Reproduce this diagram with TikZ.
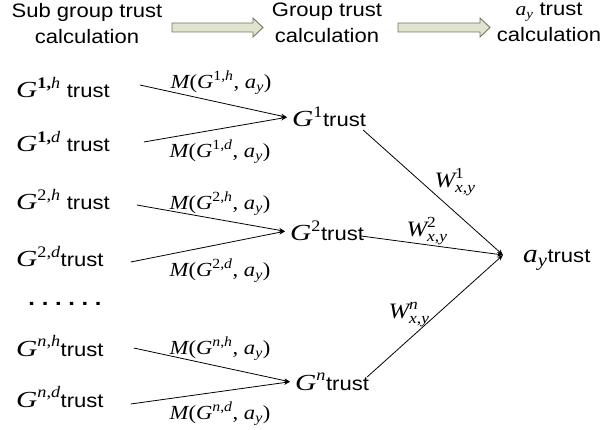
\documentclass[tikz,border=0pt]{standalone}
\usepackage{amsmath}
\usepackage{fontspec}
\setmainfont{Liberation Sans}[FakeStretch=1.13]
\newfontfamily\tms{Liberation Serif}[FakeStretch=1.13]
\newfontfamily\tmsw{Liberation Serif}[FakeStretch=1.28]
\usetikzlibrary{arrows.meta}
\newcommand{\tvi}[1]{\text{\tms\itshape #1}}
\newcommand{\tvr}[1]{\text{\tms\upshape #1}}
\newcommand{\tvG}{\text{\tmsw\itshape G}}
\newcommand{\szG}{\fontsize{23}{27}\selectfont}
\newcommand{\szW}{\fontsize{22}{26}\selectfont}
\newcommand{\szM}{\fontsize{20}{24}\selectfont}
\newcommand{\szA}{\fontsize{26}{30}\selectfont}
\newcommand{\szH}{\fontsize{19}{23}\selectfont}
\newcommand{\dotgap}{\hspace{6.7pt}}
\definecolor{arrfill}{RGB}{224,228,206}
\definecolor{arrdraw}{RGB}{115,120,100}
\begin{document}
\begin{tikzpicture}[x=1pt,y=-1pt,
  txt/.style={inner sep=0pt, font=\fontsize{19.5}{26}\selectfont},
  hdr/.style={txt, align=center, anchor=north},
  grp/.style={txt, inner xsep=5pt, inner ysep=0pt, anchor=base west},
  lab/.style={inner sep=0pt},
  conn/.style={line width=0.8pt, -{Stealth[length=6pt,width=4.5pt]}},
  blockarrow/.style={fill=arrfill, draw=arrdraw, line width=0.9pt, line join=miter}]
\path[use as bounding box, fill=white] (0,0) rectangle (608,430);

% header
\node[hdr] (h1) at (87,3) {Sub group trust\\calculation};
\node[hdr] (h2) at (327,3) {Group trust\\calculation};
\node[hdr] (h3) at (549,3) {{\szH$\tvi{a}_{\tvi{y}}$} trust\\calculation};
\draw[blockarrow] (172,23) -- (253,23) -- (253,18) -- (263,27.5) -- (253,37) -- (253,32) -- (172,32) -- cycle;
\draw[blockarrow] (398,23) -- (480,23) -- (480,18) -- (490,27.5) -- (480,37) -- (480,32) -- (398,32) -- cycle;

% sub group nodes
\node[txt, anchor=base west] (s1h) at (16,98) {{\szG$\tvG^{\tvr{\bfseries 1,}\tvi{h}}$} trust};
\node[txt, anchor=base west] (s1d) at (16,152) {{\szG$\tvG^{\tvr{\bfseries 1,}\tvi{d}}$} trust};
\node[txt, anchor=base west] (s2h) at (16,210) {{\szG$\tvG^{\tvr{2,}\tvi{h}}$} trust};
\node[txt, anchor=base west] (s2d) at (16,267) {{\szG$\tvG^{\tvr{2,}\tvi{d}}$}trust};
\node[txt, anchor=base, font=\fontsize{21}{24}\selectfont\bfseries] (dots) at (65,306) {.\dotgap.\dotgap.\dotgap.\dotgap.\dotgap.};
\node[txt, anchor=base west] (snh) at (16,356) {{\szG$\tvG^{\tvi{n}\tvr{,}\tvi{h}}$}trust};
\node[txt, anchor=base west] (snd) at (16,407) {{\szG$\tvG^{\tvi{n}\tvr{,}\tvi{d}}$}trust};

% group nodes
\node[grp] (g1) at (287,127) {{\szG$\tvG^{\tvr{1}}$}trust};
\node[grp] (g2) at (285,241) {{\szG$\tvG^{\tvr{2}}$}trust};
\node[grp] (gn) at (290,390) {{\szG$\tvG^{\tvi{n}}$}trust};

% a_y node
\coordinate (hub) at (503,255);
\node[txt, anchor=base west] (ay) at (523,263) {{\szA$\tvi{a}_{\tvi{y}}$}trust};

% sub group -> group
\draw[conn] ([shift={(30,-13)}]s1h.base east) -- (g1.west);
\draw[conn] ([shift={(34,-10)}]s1d.base east) -- (g1.west);
\draw[conn] ([shift={(27,-5)}]s2h.base east) -- (g2.west);
\draw[conn] ([shift={(27,-5)}]s2d.base east) -- (g2.west);
\draw[conn] ([shift={(30,-8)}]snh.base east) -- (gn.west);
\draw[conn] ([shift={(27,-3)}]snd.base east) -- (gn.west);

% group -> a_y
\draw[conn] ([shift={(-8,3)}]g1.base east) -- (hub);
\draw[conn] ([shift={(-8,-5)}]g2.base east) -- (hub);
\draw[conn] ([shift={(-7,-13)}]gn.base east) -- (hub);

% M labels
\node[lab, font=\szM] (m1h) at (221,83) {$\tvi{M}\tvr{(}\tvi{G}^{\tvr{1,}\tvi{h}}\tvr{, }\tvi{a}_{\tvi{y}}\tvr{)}$};
\node[lab, font=\szM] (m1d) at (220,152) {$\tvi{M}\tvr{(}\tvi{G}^{\tvr{1,}\tvi{d}}\tvr{, }\tvi{a}_{\tvi{y}}\tvr{)}$};
\node[lab, font=\szM] (m2h) at (220,204) {$\tvi{M}\tvr{(}\tvi{G}^{\tvr{2,}\tvi{h}}\tvr{, }\tvi{a}_{\tvi{y}}\tvr{)}$};
\node[lab, font=\szM] (m2d) at (220,271) {$\tvi{M}\tvr{(}\tvi{G}^{\tvr{2,}\tvi{d}}\tvr{, }\tvi{a}_{\tvi{y}}\tvr{)}$};
\node[lab, font=\szM] (mnh) at (220,349) {$\tvi{M}\tvr{(}\tvi{G}^{\tvi{n}\tvr{,}\tvi{h}}\tvr{, }\tvi{a}_{\tvi{y}}\tvr{)}$};
\node[lab, font=\szM] (mnd) at (220,414) {$\tvi{M}\tvr{(}\tvi{G}^{\tvi{n}\tvr{,}\tvi{d}}\tvr{, }\tvi{a}_{\tvi{y}}\tvr{)}$};

% W labels
\node[lab, font=\szW] (w1) at (455,182) {$\tvi{W}^{\tvr{1}}_{\tvi{x}\tvr{,}\tvi{y}}$};
\node[lab, font=\szW] (w2) at (427,231) {$\tvi{W}^{\tvr{2}}_{\tvi{x}\tvr{,}\tvi{y}}$};
\node[lab, font=\szW] (wn) at (409,315) {$\tvi{W}^{\tvi{n}}_{\tvi{x}\tvr{,}\tvi{y}}$};
\end{tikzpicture}
\end{document}
